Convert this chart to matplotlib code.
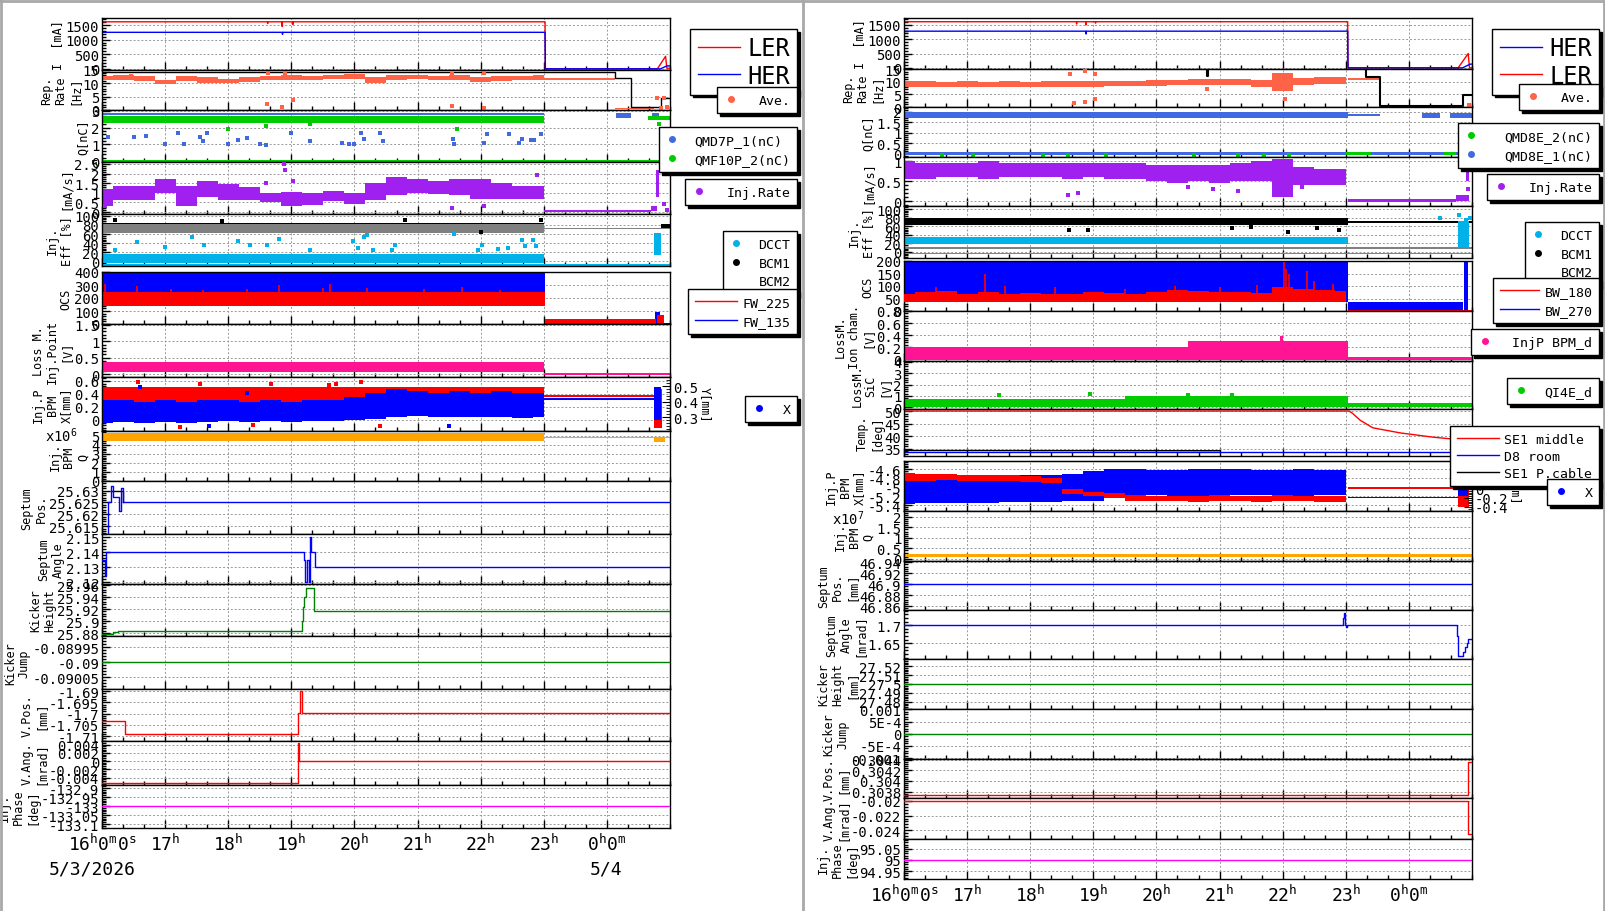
import matplotlib
matplotlib.use("Agg")
import matplotlib.pyplot as plt
from matplotlib.lines import Line2D
from matplotlib.ticker import MultipleLocator, AutoMinorLocator, FuncFormatter

plt.rcParams["font.family"] = ["DejaVu Sans Mono", "DejaVu Sans"]
plt.rcParams["mathtext.fontset"] = "custom"
plt.rcParams["mathtext.rm"] = "DejaVu Sans Mono"
plt.rcParams["mathtext.it"] = "DejaVu Sans Mono"

W, H = 1606, 912

# sampling of the noisy bands, minutes after 16:00
BAND_MIN = [0, 20, 40, 60, 80, 100, 120, 140, 160, 180, 200,
            220, 240, 260, 280, 300, 320, 340, 360, 380, 400, 420]

# ---------------------------------------------------------------- left column
L_LER_T = [16.0, 18.62, 18.625, 18.63, 18.85, 18.855, 18.86, 19.02, 19.025, 19.03,
           23.02, 23.025, 24.8, 24.93, 24.95, 25.0]
L_LER_V = [1610, 1610, 1550, 1610, 1610, 1450, 1610, 1610, 1520, 1610,
           1610, 0, 0, 430, 20, 20]
L_HER_T = [16.0, 18.855, 18.86, 18.865, 23.02, 23.025, 24.85, 24.95, 25.0]
L_HER_V = [1250, 1250, 1180, 1250, 1250, 0, 0, 100, 100]

L_REP_MAX_T = [16.0, 24.13, 24.38, 24.86, 25.0]
L_REP_MAX_V = [14.2, 11.9, 1.1, 4.5, 4.5]
L_REP_AVE_LO = [11.2, 11.4, 11.0, 9.6, 11.0, 10.0, 10.2, 10.6, 11.2, 11.4, 11.2,
                11.6, 11.8, 10.2, 11.4, 11.5, 11.2, 11.4, 10.6, 11.0, 11.2, 11.4]
L_REP_AVE_HI = [12.9, 13.0, 12.6, 11.4, 12.6, 12.2, 11.8, 12.4, 12.8, 13.0, 12.8,
                13.2, 13.4, 12.4, 13.0, 13.1, 12.8, 13.0, 12.4, 12.6, 12.8, 13.0]
L_REP_AVE_SPANS = [(23.0, 24.13, 11.4, 11.9), (24.13, 24.75, 0.2, 0.7)]
L_REP_OUT_T = [16.46, 18.62, 18.63, 18.85, 18.9, 19.03, 21.54, 21.55, 22.05, 22.05,
               24.8, 24.85, 24.9, 24.95]
L_REP_OUT_V = [12.8, 2.2, 13.9, 1.1, 13.9, 3.7, 1.6, 13.5, 0.9, 14.0,
               4.5, 0.8, 4.6, 1.0]

L_Q1_SPANS = [(16.0, 23.0, 2.74, 2.86), (24.15, 24.38, 2.55, 2.85), (24.72, 24.82, 2.6, 2.85)]
L_Q2_SPANS = [(16.0, 23.0, 2.3, 2.72), (16.0, 25.0, -0.04, 0.05), (24.65, 25.0, 2.45, 2.72)]
L_Q1_OUT_T = [16.1, 16.5, 16.7, 17.0, 17.2, 17.3, 17.55, 17.6, 17.67, 18.0, 18.15,
              18.3, 18.5, 18.6, 19.0, 19.3, 19.8, 19.92, 20.0, 20.1, 20.15, 20.4,
              20.45, 21.56, 21.58, 22.06, 22.1, 22.45, 22.6, 22.65, 22.8, 22.85, 22.95]
L_Q1_OUT_V = [1.45, 1.45, 1.5, 1.0, 1.7, 1.0, 1.45, 1.2, 1.7, 1.0, 1.25,
              1.4, 1.05, 0.95, 1.7, 1.2, 1.1, 1.05, 1.05, 1.7, 1.3, 1.7,
              1.2, 1.35, 1.05, 1.1, 1.6, 1.6, 1.1, 1.35, 1.25, 1.25, 1.6]
L_Q2_OUT_T = [18.0, 18.6, 19.3, 21.62, 24.82]
L_Q2_OUT_V = [1.9, 2.1, 2.2, 1.9, 2.2]

L_RATE_LO = [0.3, 0.65, 0.65, 1.0, 0.3, 0.8, 0.65, 0.65, 0.5, 0.3, 0.35,
             0.6, 0.4, 0.65, 0.9, 1.0, 0.95, 0.9, 0.7, 0.7, 0.7, 0.7]
L_RATE_HI = [1.2, 1.35, 1.35, 1.7, 1.35, 1.6, 1.45, 1.3, 1.0, 1.05, 1.0,
             1.1, 1.0, 1.5, 1.8, 1.7, 1.6, 1.7, 1.7, 1.5, 1.35, 1.35]
L_RATE_SPANS = [(23.0, 24.7, 0.0, 0.09), (24.7, 24.8, 0.05, 0.3), (24.78, 24.83, 0.8, 2.2)]
L_RATE_OUT_T = [16.05, 18.6, 18.88, 18.9, 19.02, 21.55, 22.05, 22.9, 24.9, 24.95]
L_RATE_OUT_V = [0.3, 1.5, 2.5, 2.2, 1.6, 0.2, 0.3, 1.9, 0.4, 0.1]

L_BCM1_SPANS = [(16.0, 23.0, 76, 84), (24.85, 25.0, 74, 82)]
L_BCM2_SPANS = [(16.0, 23.0, 62, 81), (23.0, 25.0, 71, 74)]
L_DCCT_SPANS = [(16.0, 23.0, -4, 17), (16.0, 25.0, -9, -6), (24.74, 24.86, 15, 62)]
L_BCM1_OUT_T = [16.2, 17.9, 20.8, 22.0, 22.95]
L_BCM1_OUT_V = [90, 88, 90, 65, 90]
L_DCCT_OUT_T = [16.55, 17.42, 18.15, 18.35, 18.62, 18.8, 19.97, 20.15, 20.2, 20.65,
                16.2, 17.0, 17.62, 19.3, 20.05, 20.3, 20.6, 21.57, 22.66, 22.7,
                22.83, 22.88, 22.02, 22.28, 22.44, 21.95]
L_DCCT_OUT_V = [43, 54, 44, 35, 37, 50, 44, 54, 57, 37,
                24, 32, 35, 26, 30, 24, 24, 60, 48, 34,
                48, 34, 37, 28, 30, 26]

L_FW135_SPANS = [(16.0, 23.02, 245, 400), (23.02, 25.0, 0, 4), (24.76, 24.84, 5, 95)]
L_FW225_SPANS = [(16.0, 23.02, 140, 248), (23.02, 24.78, 3, 42), (24.8, 24.9, 5, 70)]
L_FW225_SPIKE_T = [16.05, 16.55, 17.1, 17.6, 18.3, 18.8, 19.5, 19.62, 20.2, 21.1, 21.7, 22.3]
L_FW225_SPIKE_V = [305, 290, 270, 265, 270, 300, 280, 310, 275, 270, 285, 265]

L_LOSS_SPANS = [(16.0, 23.0, 0.06, 0.36), (23.0, 25.0, -0.02, 0.05)]

L_BPMX_LO = [-0.05, -0.03, -0.04, -0.03, -0.05, -0.03, -0.02, -0.03, -0.02, -0.03, -0.02,
             -0.02, 0.0, 0.02, 0.05, 0.06, 0.04, 0.05, 0.04, 0.05, 0.03, 0.04]
L_BPMX_HI = [0.3, 0.3, 0.28, 0.3, 0.28, 0.3, 0.3, 0.28, 0.3, 0.28, 0.3,
             0.3, 0.35, 0.42, 0.48, 0.45, 0.42, 0.44, 0.42, 0.44, 0.42, 0.42]
L_BPMX_SPANS = [(23.0, 24.75, 0.305, 0.335), (24.75, 24.85, 0.0, 0.5)]
L_BPMY_SPANS = [(16.0, 23.0, 0.16, 0.5), (23.0, 24.75, 0.355, 0.385), (24.75, 24.88, -0.12, 0.48)]
L_BPMY_OUT_T = [16.57, 17.55, 18.67, 19.6, 19.7, 20.1, 17.24, 20.4, 18.4]
L_BPMY_OUT_V = [0.58, 0.55, 0.55, 0.53, 0.55, 0.58, -0.11, -0.1, -0.08]
L_BPMX_OUT_T = [16.6, 18.3, 17.7, 21.5]
L_BPMX_OUT_V = [0.5, 0.42, -0.09, -0.1]

L_BPMQ_SPANS = [(16.0, 23.0, 4.45, 5.3), (23.0, 24.75, 4.8, 4.92),
                (24.75, 24.92, 4.3, 4.9), (24.92, 25.0, 4.75, 4.9)]

L_SPOS_T = [16.0, 16.1, 16.15, 16.17, 16.275, 16.3, 16.33, 25.0]
L_SPOS_V = [25.6105, 25.625, 25.6317, 25.6271, 25.6213, 25.631, 25.625, 25.625]
L_SPOS_SET_T = [16.15, 16.33]
L_SPOS_SET_V = [25.63, 25.625]
L_SANG_T = [16.0, 16.04, 16.07, 19.195, 19.22, 19.25, 19.275, 19.29, 19.31, 19.37, 25.0]
L_SANG_V = [2.135, 2.124, 2.14, 2.135, 2.12, 2.135, 2.12, 2.15, 2.14, 2.13, 2.13]
L_KH_T = [16.0, 16.18, 16.25, 19.17, 19.185, 19.206, 19.24, 19.365, 25.0]
L_KH_V = [25.878, 25.882, 25.883, 25.9, 25.923, 25.94, 25.955, 25.917, 25.917]
L_KJ_T = [16.0, 25.0]
L_KJ_V = [-0.09, -0.09]
L_VPOS_T = [16.0, 16.37, 19.105, 19.13, 19.17, 25.0]
L_VPOS_V = [-1.7033, -1.7091, -1.6998, -1.69, -1.6998, -1.6998]
L_VANG_T = [16.0, 19.105, 19.115, 25.0]
L_VANG_V = [-0.0052, 0.0045, 0.0, 0.0]
L_PHASE_T = [16.0, 25.0]
L_PHASE_V = [-133.0, -133.0]

# --------------------------------------------------------------- right column
R_LER_T = [16.0, 18.73, 18.735, 18.74, 18.88, 18.885, 18.89, 19.03, 19.035, 19.04,
           23.03, 23.035, 24.78, 24.94, 24.96, 25.0]
R_LER_V = [1610, 1610, 1530, 1610, 1610, 1500, 1610, 1610, 1560, 1610,
           1610, 0, 0, 500, 0, 0]
R_HER_T = [16.0, 18.88, 18.885, 18.89, 23.03, 23.035, 24.85, 24.97, 25.0]
R_HER_V = [1280, 1280, 1180, 1280, 1280, 0, 0, 130, 130]

R_REP_MAX_T = [16.0, 20.8, 20.82, 23.32, 23.54, 24.86, 25.0]
R_REP_MAX_V = [15.0, 12.2, 15.0, 11.9, 0.5, 4.8, 4.8]
R_REP_AVE_LO = [7.8, 8.0, 8.0, 8.0, 8.0, 8.0, 8.0, 8.0, 8.0, 8.0, 8.2,
                8.2, 8.2, 8.5, 8.8, 8.8, 8.6, 8.0, 6.5, 8.8, 9.0, 9.0]
R_REP_AVE_HI = [10.4, 10.2, 10.0, 10.2, 10.0, 10.2, 10.0, 10.3, 10.2, 10.4, 10.2,
                10.4, 10.5, 10.8, 11.2, 11.0, 11.0, 10.5, 13.5, 11.6, 11.8, 11.8]
R_REP_AVE_SPANS = [(23.03, 23.55, 10.7, 11.3), (23.55, 24.75, 0.3, 0.9), (24.86, 24.92, 4.6, 5.2)]
R_REP_OUT_T = [18.63, 18.7, 18.87, 18.87, 19.03, 19.03, 20.8, 22.04, 24.95]
R_REP_OUT_V = [13.0, 1.5, 14.3, 2.0, 13.0, 3.0, 7.0, 3.2, 0.8]

R_Q1_SPANS = [(16.0, 23.03, 1.68, 1.97), (23.03, 23.55, 1.8, 1.88), (24.2, 24.5, 1.72, 1.95),
              (24.65, 25.0, 1.72, 1.95), (16.0, 25.0, -0.06, 0.06)]
R_Q2_SPANS = [(23.0, 23.4, -0.06, 0.06), (24.55, 24.75, -0.06, 0.06), (24.9, 25.0, -0.06, 0.06)]
R_Q2_OUT_T = [16.6, 17.1, 18.2, 18.6, 19.2, 20.6, 21.3, 21.7, 22.1]
R_Q2_OUT_V = [-0.08, -0.08, -0.08, -0.08, -0.08, -0.08, -0.08, -0.08, -0.08]

R_RATE_LO = [0.55, 0.55, 0.6, 0.6, 0.55, 0.6, 0.6, 0.6, 0.55, 0.6, 0.55,
             0.55, 0.5, 0.45, 0.5, 0.45, 0.5, 0.5, 0.1, 0.4, 0.4, 0.4]
R_RATE_HI = [1.0, 0.95, 0.95, 0.95, 1.0, 0.95, 0.95, 0.95, 0.95, 0.95, 0.95,
             0.95, 0.9, 0.9, 0.9, 0.9, 0.95, 1.0, 1.05, 0.85, 0.8, 0.8]
R_RATE_SPANS = [(23.03, 24.75, -0.03, 0.05), (24.75, 24.95, 0.0, 0.15), (24.9, 24.96, 0.5, 0.8)]
R_RATE_OUT_T = [18.6, 18.75, 20.5, 20.9, 21.3, 22.3, 24.93]
R_RATE_OUT_V = [0.15, 0.2, 0.35, 0.3, 0.25, 0.35, 0.3]

R_BCM1_SPANS = [(16.0, 23.03, 62, 80), (23.03, 25.0, 68, 72)]
R_BCM2_SPANS = [(16.0, 25.0, 7.5, 10.5)]
R_DCCT_SPANS = [(16.0, 23.03, 18, 36), (16.0, 25.0, -5, -2), (24.78, 24.95, 12, 72)]
R_BCM1_OUT_T = [18.62, 18.92, 21.2, 21.5, 22.08, 22.55, 22.9]
R_BCM1_OUT_V = [50, 52, 55, 58, 46, 55, 52]
R_DCCT_OUT_T = [24.5, 24.8, 24.9, 24.97]
R_DCCT_OUT_V = [80, 85, 75, 80]

R_BW270_SPANS = [(16.0, 23.03, 35, 200), (23.03, 24.85, 0, 38), (24.87, 24.93, 0, 200)]
R_BW180_LO = [35, 35, 35, 35, 35, 35, 35, 35, 35, 35, 35,
              35, 35, 35, 35, 35, 35, 35, 35, 35, 35, 35]
R_BW180_HI = [70, 75, 80, 70, 75, 70, 72, 68, 70, 75, 72,
              70, 78, 85, 80, 75, 78, 72, 95, 90, 85, 80]
R_BW180_SPANS = [(23.03, 25.0, 0, 3)]
R_BW180_SPIKE_T = [16.5, 17.28, 17.6, 18.4, 19.5, 20.3, 21.0, 21.6, 22.02, 22.06, 22.1, 22.38, 22.5, 22.8]
R_BW180_SPIKE_V = [95, 148, 100, 95, 90, 100, 95, 105, 195, 170, 150, 160, 120, 110]

R_ION_SPANS = [(16.0, 20.5, -0.02, 0.2), (20.5, 23.03, -0.02, 0.3),
               (21.95, 22.0, 0.2, 0.38), (23.03, 25.0, -0.02, 0.03)]
R_SIC_SPANS = [(16.0, 19.5, 0.0, 0.75), (19.5, 23.03, 0.0, 0.95), (23.03, 25.0, 0.0, 0.4)]
R_SIC_OUT_T = [17.5, 18.95, 20.5, 21.2]
R_SIC_OUT_V = [1.05, 1.2, 1.1, 1.05]

R_SE1_T = [16.0, 23.05, 23.1, 23.23, 23.43, 23.86, 24.38, 24.92, 25.0]
R_SE1_V = [50.0, 50.0, 49.2, 46.3, 43.3, 41.3, 39.6, 38.3, 38.1]
R_D8_T = [16.0, 25.0]
R_D8_V = [33.8, 33.8]
R_CABLE_T = [16.0, 21.0]
R_CABLE_V = [34.3, 34.2]

R_BPMX_LO = [-5.38, -5.36, -5.36, -5.35, -5.35, -5.34, -5.33, -5.32, -5.3, -5.3, -5.25,
             -5.2, -5.18, -5.2, -5.2, -5.2, -5.18, -5.18, -5.2, -5.2, -5.18, -5.18]
R_BPMX_HI = [-4.7, -4.72, -4.75, -4.75, -4.75, -4.75, -4.72, -4.72, -4.7, -4.65, -4.6,
             -4.6, -4.62, -4.62, -4.6, -4.6, -4.6, -4.62, -4.62, -4.6, -4.62, -4.62]
R_BPMY_LO = [-4.86, -4.86, -4.85, -4.86, -4.86, -4.86, -4.88, -4.9, -5.16, -5.2, -5.24,
             -5.3, -5.3, -5.3, -5.32, -5.3, -5.3, -5.32, -5.3, -5.3, -5.32, -5.32]
R_BPMY_HI = [-4.68, -4.7, -4.7, -4.72, -4.72, -4.72, -4.75, -4.8, -5.05, -5.1, -5.14,
             -5.18, -5.2, -5.2, -5.2, -5.18, -5.2, -5.2, -5.18, -5.2, -5.2, -5.2]
R_BPMX_SPANS = [(23.03, 24.78, -5.25, -5.21), (24.78, 24.93, -5.2, -4.6)]
R_BPMY_SPANS = [(23.03, 24.78, -5.04, -5.0), (24.78, 24.95, -5.45, -4.75)]

R_BPMQ_SPANS = [(16.0, 25.0, 0.08, 0.22)]

R_SPOS_T = [16.0, 25.0]
R_SPOS_V = [46.9, 46.9]
R_SANG_T = [16.0, 22.96, 22.975, 22.99, 23.0, 23.02, 24.76, 24.775, 24.785, 24.865,
            24.89, 24.915, 24.94, 25.0]
R_SANG_V = [1.7, 1.72, 1.733, 1.7, 1.695, 1.7, 1.67, 1.629, 1.615, 1.625,
            1.639, 1.65, 1.661, 1.661]
R_KH_T = [16.0, 25.0]
R_KH_V = [27.5, 27.5]
R_KJ_T = [16.0, 25.0]
R_KJ_V = [0.0, 0.0]
R_VPOS_T = [16.0, 24.93, 25.0]
R_VPOS_V = [0.30373, 0.30436, 0.30436]
R_VANG_T = [16.0, 24.93, 25.0]
R_VANG_V = [-0.02, -0.0245, -0.0245]
R_PHASE_T = [16.0, 25.0]
R_PHASE_V = [95.0, 95.0]

HOUR_TICKS = [16, 17, 18, 19, 20, 21, 22, 23, 24]

# colours
RED, BLUE = "#FF0000", "#0000FF"
AVE = "#FF6347"
QBLUE, QGREEN = "#4169E1", "#00CC00"
PURPLE = "#A020F0"
DCCT, BCM2 = "#00B2E8", "#808080"
PINK = "#FF1493"
ORANGE = "#FFA500"
DKGREEN = "#008000"
MAGENTA = "#FF00FF"

LEFT_X = (102, 670)
RIGHT_X = (904, 1472)

LEFT_PANELS = [
    ("cur", 19, 71, (-40, 1740), 500, "I  [mA]"),
    ("rep", 71, 111, (0, 15), 5, "Rep.\nRate\n[Hz]"),
    ("q", 111, 163, (-0.05, 3.05), 1, "Q[nC]"),
    ("rate", 163, 215, (-0.1, 2.6), 0.5, "[mA/s]"),
    ("eff", 215, 267, (-10, 104), 20, "Inj.\nEff [%]"),
    ("ocs", 273, 325, (0, 400), 100, "OCS"),
    ("loss", 325, 378, (-0.08, 1.52), 0.5, "Loss M.\nInj.Point\n[V]"),
    ("bpmx", 378, 432, (-0.17, 0.66), 0.2, "Inj.P\nBPM\nX[mm]"),
    ("bpmq", 432, 482, (0, 5.55), 1, "Inj.\nBPM\nQ"),
    ("spos", 482, 535, (25.6117, 25.634), 0.005, "Septum\nPos."),
    ("sang", 535, 585, (2.1187, 2.152), 0.01, "Septum\nAngle"),
    ("kh", 585, 637, (25.875, 25.9617), 0.02, "Kicker\nHeight"),
    ("kj", 637, 690, (-0.09009, -0.089913), 0.00005, "Kicker\nJump"),
    ("vpos", 690, 742, (-1.7122, -1.6891), 0.005, "V.Pos.\n[mm]"),
    ("vang", 742, 786, (-0.0058, 0.0049), 0.002, "V.Ang.\n[mrad]"),
    ("phase", 786, 829, (-133.122, -132.883), 0.05, "Inj.\nPhase\n[deg]"),
]
RIGHT_PANELS = [
    ("cur", 19, 70, (-40, 1740), 500, "I  [mA]"),
    ("rep", 70, 108, (0, 15), 5, "Rep.\nRate\n[Hz]"),
    ("q", 108, 158, (-0.17, 2.23), 0.5, "Q[nC]"),
    ("rate", 158, 207, (-0.12, 1.1), 0.5, "[mA/s]"),
    ("eff", 207, 259, (-14, 107), 20, "Inj.\nEff [%]"),
    ("ocs", 262, 312, (0, 200), 50, "OCS"),
    ("ion", 312, 362, (-0.03, 0.8), 0.2, "LossM.\nIon cham.\n[V]"),
    ("sic", 362, 410, (-0.15, 4.07), 1, "LossM.\nSiC\n[V]"),
    ("temp", 410, 457, (32.1, 50.8), 5, "Temp.\n[deg]"),
    ("bpmx", 462, 512, (-5.53, -4.42), 0.2, "Inj.P\nBPM\nX[mm]"),
    ("bpmq", 512, 562, (-0.1, 2.28), 0.5, "Inj.\nBPM\nQ"),
    ("spos", 562, 611, (46.853, 46.942), 0.02, "Septum\nPos.\n[mm]"),
    ("sang", 611, 660, (1.606, 1.742), 0.05, "Septum\nAngle\n[mrad]"),
    ("kh", 660, 710, (27.472, 27.528), 0.01, "Kicker\nHeight\n[mm]"),
    ("kj", 710, 760, (-0.00104, 0.00102), 0.0005, "Kicker\nJump"),
    ("vpos", 760, 799, (0.30368, 0.30441), 0.0002, "V.Pos.\n[mm]"),
    ("vang", 799, 840, (-0.0252, -0.0196), 0.002, "V.Ang.\n[mrad]"),
    ("phase", 840, 880, (94.914, 95.095), 0.05, "Inj.\nPhase\n[deg]"),
]


def hrs(minutes):
    return [16 + m / 60 for m in minutes]


def tick_fmt(v, pos):
    if abs(v) < 1e-12:
        return "0"
    if abs(v) < 0.00099:
        mant, exp = f"{v:.0E}".split("E")
        return f"{mant}E{int(exp)}"
    return f"{v:.6g}"


def hour_fmt(v, pos):
    h = int(round(v))
    if h == 16:
        return r"$\mathregular{16^{h}0^{m}0^{s}}$"
    if h == 24:
        return r"$\mathregular{0^{h}0^{m}}$"
    if h > 24:
        return ""
    return r"$\mathregular{%d^{h}}$" % h


fig = plt.figure(figsize=(W / 100, H / 100), dpi=100)


def make_column(xr, specs):
    axes = {}
    for key, top, bot, ylim, major, label in specs:
        ax = fig.add_axes([xr[0] / W, 1 - bot / H, (xr[1] - xr[0]) / W, (bot - top) / H])
        ax.set_xlim(16, 25)
        ax.set_ylim(*ylim)
        ax.set_xticks(HOUR_TICKS)
        ax.xaxis.set_minor_locator(MultipleLocator(1 / 3))
        ax.yaxis.set_major_locator(MultipleLocator(major))
        ax.yaxis.set_minor_locator(AutoMinorLocator(5))
        ax.yaxis.set_major_formatter(FuncFormatter(tick_fmt))
        ax.tick_params(which="both", direction="in", top=False, right=False,
                       labelsize=10, pad=2, width=1)
        ax.tick_params(which="major", length=6)
        ax.tick_params(which="minor", length=3)
        ax.tick_params(axis="x", labelbottom=False)
        ax.grid(True, which="major", color="#999999", ls=(0, (2, 2)), lw=0.7)
        ax.set_axisbelow(True)
        ax.set_ylabel(label, fontsize=8.5, linespacing=1.1, labelpad=1)
        for sp in ax.spines.values():
            sp.set_linewidth(1.0)
        axes[key] = ax
    bottom = axes[specs[-1][0]]
    bottom.xaxis.set_major_formatter(FuncFormatter(hour_fmt))
    bottom.tick_params(axis="x", labelbottom=True, labelsize=13, pad=3)
    return axes


def spans(ax, items, color, z=2):
    for t0, t1, lo, hi in items:
        ax.fill_between([t0, t1], [lo, lo], [hi, hi], color=color, lw=0, zorder=z)


def band(ax, lo, hi, color, z=2):
    ax.fill_between(hrs(BAND_MIN), lo, hi, step="mid", color=color, lw=0, zorder=z)


def dots(ax, t, v, color, z=3):
    ax.scatter(t, v, s=7, marker="s", color=color, lw=0, zorder=z)


def steps(ax, t, v, color, lw=1.0):
    ax.plot(t, v, drawstyle="steps-post", color=color, lw=lw, zorder=3)


# ------------------------------------------------------------- left drawing
LA = make_column(LEFT_X, LEFT_PANELS)
LA["cur"].plot(L_LER_T, L_LER_V, color=RED, lw=1.0)
LA["cur"].plot(L_HER_T, L_HER_V, color=BLUE, lw=1.0)

steps(LA["rep"], L_REP_MAX_T, L_REP_MAX_V, "black")
band(LA["rep"], L_REP_AVE_LO, L_REP_AVE_HI, AVE)
spans(LA["rep"], L_REP_AVE_SPANS, AVE)
dots(LA["rep"], L_REP_OUT_T, L_REP_OUT_V, AVE)

spans(LA["q"], L_Q1_SPANS, QBLUE)
spans(LA["q"], L_Q2_SPANS, QGREEN)
dots(LA["q"], L_Q1_OUT_T, L_Q1_OUT_V, QBLUE)
dots(LA["q"], L_Q2_OUT_T, L_Q2_OUT_V, QGREEN)

band(LA["rate"], L_RATE_LO, L_RATE_HI, PURPLE)
spans(LA["rate"], L_RATE_SPANS, PURPLE)
dots(LA["rate"], L_RATE_OUT_T, L_RATE_OUT_V, PURPLE)

spans(LA["eff"], L_BCM1_SPANS, "black")
spans(LA["eff"], L_BCM2_SPANS, BCM2)
spans(LA["eff"], L_DCCT_SPANS, DCCT)
dots(LA["eff"], L_BCM1_OUT_T, L_BCM1_OUT_V, "black")
dots(LA["eff"], L_DCCT_OUT_T, L_DCCT_OUT_V, DCCT)

spans(LA["ocs"], L_FW135_SPANS, BLUE)
spans(LA["ocs"], L_FW225_SPANS, RED)
LA["ocs"].vlines(L_FW225_SPIKE_T, 240, L_FW225_SPIKE_V, color=RED, lw=1.2, zorder=2)

spans(LA["loss"], L_LOSS_SPANS, PINK)

spans(LA["bpmx"], L_BPMY_SPANS, RED)
band(LA["bpmx"], L_BPMX_LO, L_BPMX_HI, BLUE, z=3)
spans(LA["bpmx"], L_BPMX_SPANS, BLUE, z=3)
dots(LA["bpmx"], L_BPMY_OUT_T, L_BPMY_OUT_V, RED)
dots(LA["bpmx"], L_BPMX_OUT_T, L_BPMX_OUT_V, BLUE)

spans(LA["bpmq"], L_BPMQ_SPANS, ORANGE)

steps(LA["spos"], L_SPOS_SET_T, L_SPOS_SET_V, "black")
steps(LA["spos"], L_SPOS_T, L_SPOS_V, BLUE)
steps(LA["sang"], L_SANG_T, L_SANG_V, BLUE)
steps(LA["kh"], L_KH_T, L_KH_V, DKGREEN)
steps(LA["kj"], L_KJ_T, L_KJ_V, DKGREEN)
steps(LA["vpos"], L_VPOS_T, L_VPOS_V, RED)
steps(LA["vang"], L_VANG_T, L_VANG_V, RED)
steps(LA["phase"], L_PHASE_T, L_PHASE_V, MAGENTA)

# ------------------------------------------------------------ right drawing
RA = make_column(RIGHT_X, RIGHT_PANELS)
RA["cur"].plot(R_LER_T, R_LER_V, color=RED, lw=1.0)
RA["cur"].plot(R_HER_T, R_HER_V, color=BLUE, lw=1.0)

steps(RA["rep"], R_REP_MAX_T, R_REP_MAX_V, "black", lw=1.5)
band(RA["rep"], R_REP_AVE_LO, R_REP_AVE_HI, AVE)
spans(RA["rep"], R_REP_AVE_SPANS, AVE)
dots(RA["rep"], R_REP_OUT_T, R_REP_OUT_V, AVE)

spans(RA["q"], R_Q1_SPANS, QBLUE)
spans(RA["q"], R_Q2_SPANS, QGREEN)
dots(RA["q"], R_Q2_OUT_T, R_Q2_OUT_V, QGREEN)

band(RA["rate"], R_RATE_LO, R_RATE_HI, PURPLE)
spans(RA["rate"], R_RATE_SPANS, PURPLE)
dots(RA["rate"], R_RATE_OUT_T, R_RATE_OUT_V, PURPLE)

spans(RA["eff"], R_BCM1_SPANS, "black")
spans(RA["eff"], R_DCCT_SPANS, DCCT)
spans(RA["eff"], R_BCM2_SPANS, BCM2)
dots(RA["eff"], R_BCM1_OUT_T, R_BCM1_OUT_V, "black")
dots(RA["eff"], R_DCCT_OUT_T, R_DCCT_OUT_V, DCCT)

spans(RA["ocs"], R_BW270_SPANS, BLUE)
band(RA["ocs"], R_BW180_LO, R_BW180_HI, RED, z=3)
spans(RA["ocs"], R_BW180_SPANS, RED, z=3)
RA["ocs"].vlines(R_BW180_SPIKE_T, 40, R_BW180_SPIKE_V, color=RED, lw=1.2, zorder=3)

spans(RA["ion"], R_ION_SPANS, PINK)
spans(RA["sic"], R_SIC_SPANS, QGREEN)
dots(RA["sic"], R_SIC_OUT_T, R_SIC_OUT_V, QGREEN)

RA["temp"].plot(R_SE1_T, R_SE1_V, color=RED, lw=1.0)
RA["temp"].plot(R_D8_T, R_D8_V, color=BLUE, lw=1.0)
RA["temp"].plot(R_CABLE_T, R_CABLE_V, color="black", lw=1.0)

band(RA["bpmx"], R_BPMX_LO, R_BPMX_HI, BLUE)
band(RA["bpmx"], R_BPMY_LO, R_BPMY_HI, RED, z=3)
spans(RA["bpmx"], R_BPMY_SPANS, RED, z=3)
spans(RA["bpmx"], R_BPMX_SPANS, BLUE, z=3)

spans(RA["bpmq"], R_BPMQ_SPANS, ORANGE)

steps(RA["spos"], R_SPOS_T, R_SPOS_V, BLUE)
steps(RA["sang"], R_SANG_T, R_SANG_V, BLUE)
steps(RA["kh"], R_KH_T, R_KH_V, DKGREEN)
steps(RA["kj"], R_KJ_T, R_KJ_V, DKGREEN)
steps(RA["vpos"], R_VPOS_T, R_VPOS_V, RED)
steps(RA["vang"], R_VANG_T, R_VANG_V, RED)
steps(RA["phase"], R_PHASE_T, R_PHASE_V, MAGENTA)

# twin Y axes on the BPM panels
for ax, ylim in ((LA["bpmx"], (0.21, 0.56)), (RA["bpmx"], (-0.49, 0.62))):
    tw = ax.twinx()
    tw.set_ylim(*ylim)
    tw.yaxis.set_major_locator(MultipleLocator(0.1 if ylim[0] > 0 else 0.2))
    tw.yaxis.set_minor_locator(AutoMinorLocator(5))
    tw.yaxis.set_major_formatter(FuncFormatter(tick_fmt))
    tw.tick_params(which="both", direction="in", labelsize=10, pad=2)
    tw.tick_params(which="major", length=6)
    tw.tick_params(which="minor", length=3)
    tw.set_ylabel("Y[mm]", rotation=270, fontsize=8.5, labelpad=10)

# x10^n multipliers
fig.text(45 / W, 1 - 436 / H, r"x10$^{6}$", fontsize=10, va="center")
fig.text(832 / W, 1 - 519 / H, r"x10$^{7}$", fontsize=10, va="center")

# dates under the left time axis
fig.text(92 / W, 1 - 870 / H, "5/3/2026", fontsize=13, ha="center", va="center")
fig.text(606 / W, 1 - 870 / H, "5/4", fontsize=13, ha="center", va="center")


# ------------------------------------------------------------------ legends
def dot(color):
    return Line2D([], [], ls="none", marker="o", ms=4, color=color)


def seg_handle(color):
    return Line2D([], [], color=color, lw=1.0)


NONE = Line2D([], [], ls="none")


def box(handles, labels, x1, y0, fs=9.5, hl=1.0, tp=1.6, pad=0.5, sp=0.45):
    leg = fig.legend(handles, labels, loc="upper right",
                     bbox_to_anchor=(x1 / W, 1 - y0 / H), fontsize=fs,
                     frameon=True, fancybox=False, framealpha=1,
                     edgecolor="black", borderpad=pad, handlelength=hl,
                     handletextpad=tp, labelspacing=sp, borderaxespad=0,
                     shadow={"facecolor": "black", "edgecolor": "black", "alpha": 1.0})
    leg.get_frame().set_linewidth(1.0)
    return leg


for x1, first, second in ((797, ("LER", RED), ("HER", BLUE)),
                          (1599, ("HER", BLUE), ("LER", RED))):
    box([seg_handle(first[1]), seg_handle(second[1])], [first[0], second[0]],
        x1, 30, fs=17, hl=1.8, tp=0.3, pad=0.3, sp=0.15)

box([dot(AVE)], ["Ave."], 797, 88)
box([dot(QBLUE), dot(QGREEN)], ["QMD7P_1(nC)", "QMF10P_2(nC)"], 797, 128, tp=1.2)
box([dot(PURPLE)], ["Inj.Rate"], 797, 180)
box([dot(DCCT), dot("black"), NONE], ["DCCT", "BCM1", "BCM2"], 797, 232, tp=1.2)
box([seg_handle(RED), seg_handle(BLUE)], ["FW_225", "FW_135"], 797, 290, hl=3.2, tp=0.4)
box([dot(BLUE)], ["X"], 797, 397, tp=1.3)

box([dot(AVE)], ["Ave."], 1599, 85)
box([dot(QGREEN), dot(QBLUE)], ["QMD8E_2(nC)", "QMD8E_1(nC)"], 1599, 124, tp=2.0)
box([dot(PURPLE)], ["Inj.Rate"], 1599, 175)
box([dot(DCCT), dot("black"), NONE], ["DCCT", "BCM1", "BCM2"], 1599, 223, tp=1.2)
box([seg_handle(RED), seg_handle(BLUE)], ["BW_180", "BW_270"], 1599, 279, hl=3.0, tp=0.4)
box([dot(PINK)], ["InjP BPM_d"], 1599, 330)
box([dot(QGREEN)], ["QI4E_d"], 1599, 379, tp=1.3)
box([seg_handle(RED), seg_handle(BLUE), seg_handle("black")],
    ["SE1 middle", "D8 room", "SE1 P.cable"], 1599, 427, hl=3.2, tp=0.4, sp=0.3)
box([dot(BLUE)], ["X"], 1599, 480, tp=1.3)

# grey frames of the two screen captures
for xs, ys in (([1.5 / W, 1.5 / W], [0, 1]), ([0, 1], [1 - 1.5 / H, 1 - 1.5 / H]),
               ([803 / W, 803 / W], [0, 1]), ([1604 / W, 1604 / W], [0, 1])):
    fig.add_artist(Line2D(xs, ys, color="#A8A8A8", lw=2, transform=fig.transFigure))

fig.savefig("out.png", dpi=100)
